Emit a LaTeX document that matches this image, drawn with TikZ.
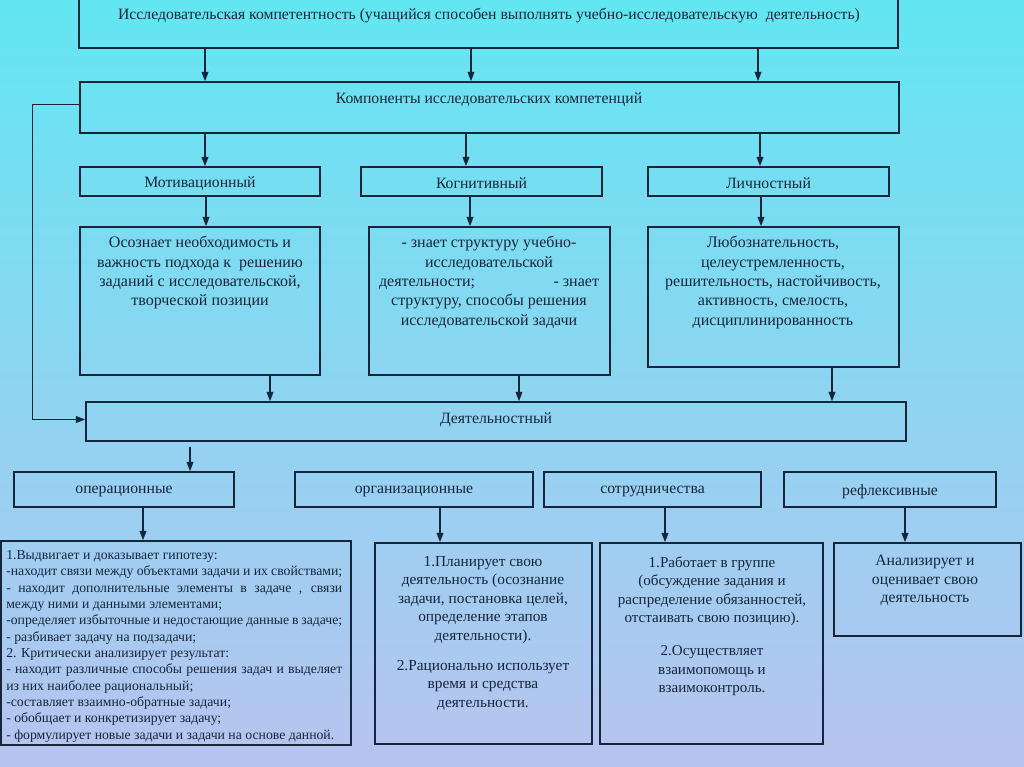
\documentclass[tikz,border=0pt]{standalone}
\usepackage{fontspec}
\setmainfont{Liberation Serif}
\usetikzlibrary{arrows.meta,fit}
\definecolor{ink}{HTML}{15253A}
\definecolor{bgtop}{HTML}{62E6F2}
\definecolor{bgmid}{HTML}{88D6F0}
\definecolor{bgbot}{HTML}{B8C4F0}
\hyphenpenalty=10000
\exhyphenpenalty=10000
\begin{document}
\begin{tikzpicture}[x=0.75pt,y=-0.75pt,
  box/.style={draw=ink,line width=1.1pt,inner sep=0pt},
  arr/.style={draw=ink,line width=1.1pt,-{Triangle[length=7pt,width=5pt]}},
  txt/.style={text=ink,inner sep=0pt},
  ttl/.style={txt,yshift=-1.5pt,font=\fontsize{11.8}{14}\selectfont},
  body/.style={txt,align=center,anchor=north,font=\fontsize{12}{14.5}\selectfont},
  bodyb/.style={txt,align=center,anchor=north,font=\fontsize{11.5}{13.9}\selectfont}]
\shade[top color=bgtop, middle color=bgmid, bottom color=bgbot] (0,0) rectangle (1024,767);
\useasboundingbox (0,0) rectangle (1024,767);

% boxes
\node[box,fit={(79,-3) (898,48)}] (top) {};
\node[box,fit={(80,82) (899,133)}] (comp) {};
\node[box,fit={(80,167) (320,196)}] (mot) {};
\node[box,fit={(361,167) (602,196)}] (cog) {};
\node[box,fit={(648,167) (889,196)}] (lich) {};
\node[box,fit={(80,227) (320,375)}] (motb) {};
\node[box,fit={(369,227) (610,375)}] (cogb) {};
\node[box,fit={(648,227) (899,367)}] (lichb) {};
\node[box,fit={(86,402) (906,441)}] (deyat) {};
\node[box,fit={(14,472) (234,507)}] (oper) {};
\node[box,fit={(295,472) (533,507)}] (org) {};
\node[box,fit={(544,472) (761,507)}] (sotr) {};
\node[box,fit={(784,472) (996,507)}] (refl) {};
\node[box,fit={(1,541) (351,745)}] (operb) {};
\node[box,fit={(375,543) (592,744)}] (orgb) {};
\node[box,fit={(600,543) (823,744)}] (sotrb) {};
\node[box,fit={(834,543) (1021,636)}] (reflb) {};

% titles
\node[ttl] (toptxt) at (489,14) {Исследовательская компетентность (учащийся способен выполнять учебно-исследовательскую\ \ деятельность)};
\node[ttl] (comptxt) at (489,98) {Компоненты исследовательских компетенций};
\node[ttl] (mottxt) at (mot.center) {Мотивационный};
\node[ttl] (cogtxt) at (cog.center) {Когнитивный};
\node[ttl] (lichtxt) at (lich.center) {Личностный};
\node[ttl] (deyattxt) at (496,418) {Деятельностный};
\node[ttl] (opertxt) at (oper.center) {операционные};
\node[ttl] (orgtxt) at (org.center) {организационные};
\node[ttl] (sotrtxt) at (sotr.center) {сотрудничества};
\node[ttl] (refltxt) at (refl.center) {рефлексивные};

% body texts
\node[body] (motbt) at (200,236) {Осознает необходимость и\\важность подхода к\ \ решению\\заданий с исследовательской,\\творческой позиции};
\node[body] (cogbt) at (489,236) {- знает структуру учебно-\\исследовательской\\\hbox to 165pt{деятельности;\hfill- знает}\\структуру, способы решения\\исследовательской задачи};
\node[body] (lichbt) at (773,236) {Любознательность,\\целеустремленность,\\решительность, настойчивость,\\активность, смелость,\\дисциплинированность};
\node[txt,anchor=north west,text width=252pt,align=justify,font=\fontsize{10.3}{12.25}\selectfont] (operbt) at (6,550) {1.Выдвигает и доказывает гипотезу:\\-находит связи между объектами задачи и их свойствами;\\- находит дополнительные элементы в задаче , связи\linebreak между ними и данными элементами;\\-определяет избыточные и недостающие данные в задаче;\\- разбивает задачу на подзадачи;\\2. Критически анализирует результат:\\- находит различные способы решения задач и выделяет\linebreak из них наиболее рациональный;\\-составляет взаимно-обратные задачи;\\- обобщает и конкретизирует задачу;\\- формулирует новые задачи и задачи на основе данной.};
\node[bodyb] (orgbt) at (483,556) {1.Планирует свою\\деятельность (осознание\\задачи, постановка целей,\\определение этапов\\деятельности).\\[8.5pt]2.Рационально использует\\время и средства\\деятельности.};
\node[bodyb,font=\fontsize{11.3}{13.9}\selectfont] (sotrbt) at (712,556) {1.Работает в группе\\(обсуждение задания и\\распределение обязанностей,\\отстаивать свою позицию).\\[11pt]2.Осуществляет\\взаимопомощь и\\взаимоконтроль.};
\node[bodyb,font=\fontsize{11.8}{13.9}\selectfont] (reflbt) at (925,555) {Анализирует и\\оценивает свою\\деятельность};

% connectors
\draw[arr] (top.south -| 205,0) -- (comp.north -| 205,0);
\draw[arr] (top.south -| 471,0) -- (comp.north -| 471,0);
\draw[arr] (top.south -| 758,0) -- (comp.north -| 758,0);
\draw[arr] (comp.south -| 205,0) -- (mot.north -| 205,0);
\draw[arr] (comp.south -| 466,0) -- (cog.north -| 466,0);
\draw[arr] (comp.south -| 760,0) -- (lich.north -| 760,0);
\draw[arr] (mot.south -| 206,0) -- (motb.north -| 206,0);
\draw[arr] (cog.south -| 470,0) -- (cogb.north -| 470,0);
\draw[arr] (lich.south -| 761,0) -- (lichb.north -| 761,0);
\draw[arr] (motb.south -| 270,0) -- (deyat.north -| 270,0);
\draw[arr] (cogb.south -| 519,0) -- (deyat.north -| 519,0);
\draw[arr] (lichb.south -| 832,0) -- (deyat.north -| 832,0);
\draw[arr] ([yshift=2.25pt]comp.west) -- ([xshift=-35.25pt,yshift=2.25pt]comp.west) |- ([yshift=1.5pt]deyat.west);
\draw[arr,shorten <=3.75pt] (deyat.south -| 190,0) -- (oper.north -| 190,0);
\draw[arr] (oper.south -| 143,0) -- (operb.north -| 143,0);
\draw[arr] (org.south -| 440,0) -- (orgb.north -| 440,0);
\draw[arr] (sotr.south -| 665,0) -- (sotrb.north -| 665,0);
\draw[arr] (refl.south -| 905,0) -- (reflb.north -| 905,0);
\end{tikzpicture}
\end{document}
